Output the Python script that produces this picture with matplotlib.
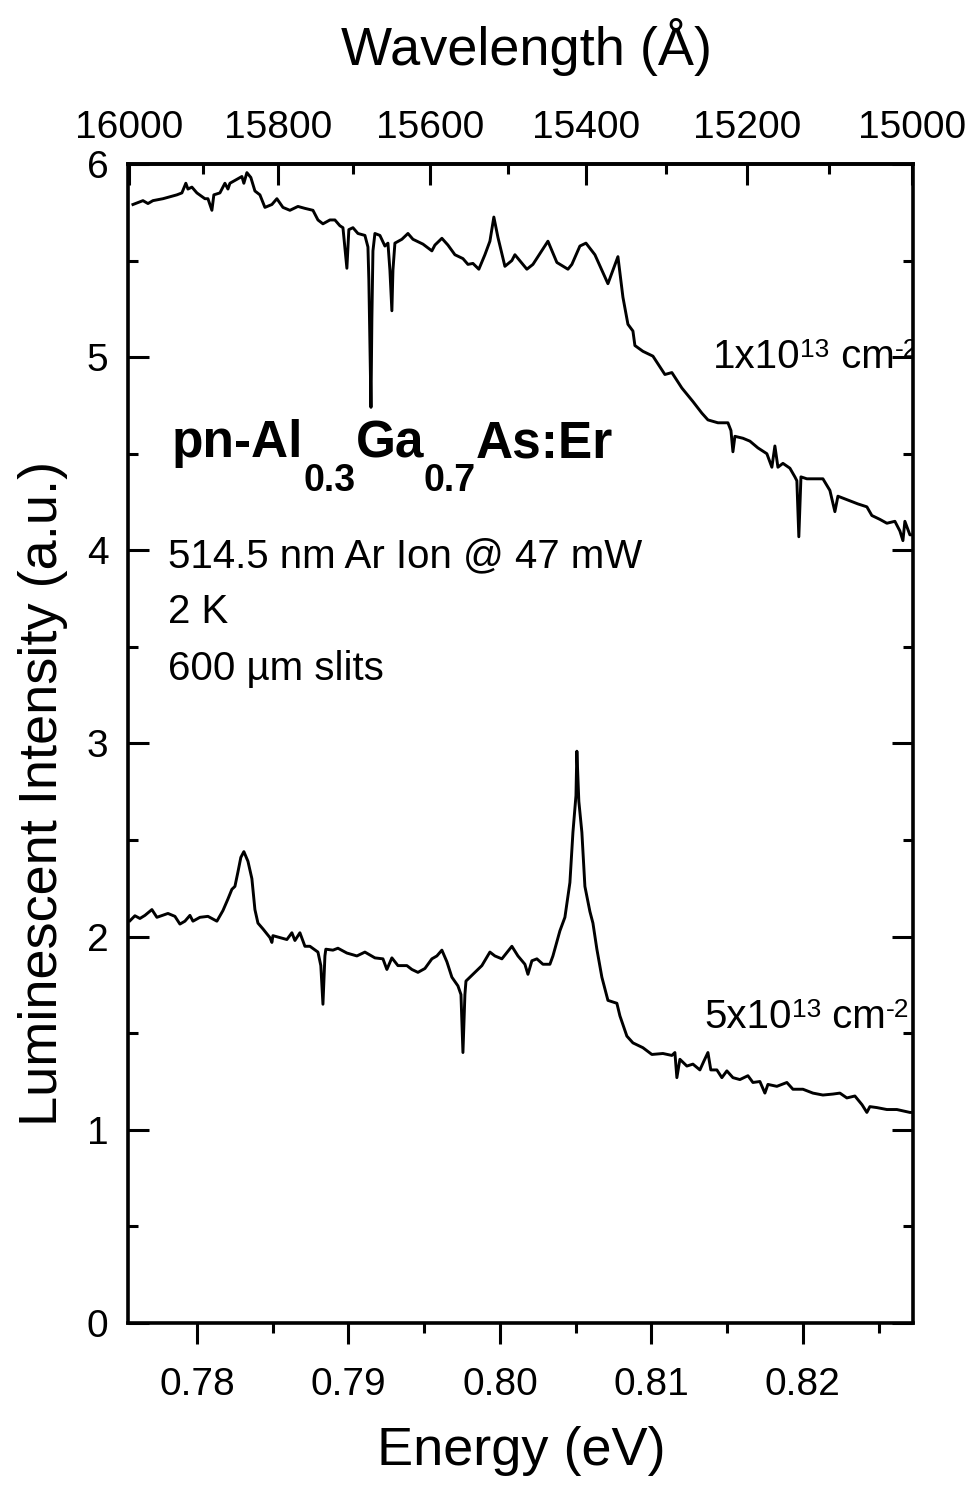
import matplotlib
matplotlib.use("Agg")
from matplotlib import pyplot as plt
from matplotlib import transforms
from matplotlib.ticker import MultipleLocator, FixedLocator

# photon energy <-> wavelength, hc in eV*Angstrom
HC = 12398.42
# small offset between the energy and wavelength scales of the scanned figure
WL_CAL_SHIFT = 0.00062

# 1x10^13 cm^-2 sample (upper trace)
energy_1e13 = [0.77578, 0.77644, 0.77677, 0.77710, 0.77776, 0.77822, 0.77868, 0.77901,
               0.77927, 0.77941, 0.77967, 0.78000, 0.78053, 0.78073, 0.78099, 0.78112,
               0.78152, 0.78185, 0.78205, 0.78218, 0.78264, 0.78297, 0.78310, 0.78330,
               0.78356, 0.78383, 0.78416, 0.78449, 0.78495, 0.78528, 0.78568, 0.78614,
               0.78667, 0.78713, 0.78766, 0.78799, 0.78832, 0.78878, 0.78911, 0.78944,
               0.78964, 0.78990, 0.79003, 0.79030, 0.79063, 0.79109, 0.79129, 0.79135,
               0.79149, 0.79155, 0.79162, 0.79175, 0.79208, 0.79241, 0.79261, 0.79274,
               0.79287, 0.79294, 0.79307, 0.79353, 0.79393, 0.79426, 0.79492, 0.79551,
               0.79571, 0.79617, 0.79657, 0.79703, 0.79756, 0.79789, 0.79822, 0.79861,
               0.79901, 0.79934, 0.79960, 0.79987, 0.80033, 0.80079, 0.80099, 0.80178,
               0.80218, 0.80317, 0.80376, 0.80449, 0.80475, 0.80528, 0.80568, 0.80627,
               0.80713, 0.80779, 0.80812, 0.80845, 0.80878, 0.80891, 0.80944, 0.81010,
               0.81089, 0.81135, 0.81201, 0.81274, 0.81333, 0.81373, 0.81439, 0.81505,
               0.81525, 0.81538, 0.81551, 0.81604, 0.81650, 0.81703, 0.81762, 0.81795,
               0.81815, 0.81835, 0.81868, 0.81914, 0.81947, 0.81960, 0.81973, 0.81987,
               0.82026, 0.82079, 0.82132, 0.82178, 0.82211, 0.82231, 0.82297, 0.82363,
               0.82422, 0.82455, 0.82508, 0.82554, 0.82607, 0.82640, 0.82660, 0.82673,
               0.82706, 0.82726]
intensity_1e13 = [5.79, 5.81, 5.795, 5.81, 5.82, 5.83, 5.84, 5.85,
                  5.90, 5.87, 5.88, 5.85, 5.82, 5.82, 5.76, 5.84,
                  5.85, 5.90, 5.87, 5.90, 5.92, 5.935, 5.90, 5.955,
                  5.93, 5.86, 5.84, 5.775, 5.79, 5.82, 5.775, 5.76,
                  5.78, 5.77, 5.76, 5.71, 5.69, 5.71, 5.71, 5.68,
                  5.67, 5.46, 5.66, 5.67, 5.64, 5.63, 5.57, 5.40,
                  4.74, 5.20, 5.55, 5.64, 5.63, 5.575, 5.59, 5.45,
                  5.24, 5.45, 5.59, 5.61, 5.64, 5.61, 5.585, 5.55,
                  5.58, 5.615, 5.58, 5.53, 5.51, 5.48, 5.485, 5.455,
                  5.53, 5.60, 5.725, 5.62, 5.47, 5.50, 5.53, 5.455,
                  5.48, 5.60, 5.49, 5.455, 5.48, 5.575, 5.59, 5.53,
                  5.38, 5.52, 5.31, 5.17, 5.135, 5.06, 5.03, 5.005,
                  4.91, 4.92, 4.84, 4.77, 4.71, 4.675, 4.66, 4.66,
                  4.62, 4.51, 4.59, 4.58, 4.565, 4.53, 4.50, 4.43,
                  4.54, 4.43, 4.45, 4.425, 4.38, 4.36, 4.07, 4.38,
                  4.37, 4.37, 4.37, 4.31, 4.20, 4.28, 4.26, 4.24,
                  4.225, 4.18, 4.16, 4.14, 4.15, 4.10, 4.05, 4.15,
                  4.08, 4.08]

# 5x10^13 cm^-2 sample (lower trace)
energy_5e13 = [0.77558, 0.77591, 0.77624, 0.77657, 0.77703, 0.77736, 0.77809, 0.77855,
               0.77888, 0.77921, 0.77954, 0.77974, 0.78020, 0.78073, 0.78132, 0.78172,
               0.78205, 0.78231, 0.78251, 0.78271, 0.78290, 0.78310, 0.78337, 0.78363,
               0.78383, 0.78403, 0.78436, 0.78482, 0.78495, 0.78502, 0.78548, 0.78594,
               0.78627, 0.78647, 0.78680, 0.78713, 0.78746, 0.78799, 0.78818, 0.78832,
               0.78845, 0.78851, 0.78898, 0.78931, 0.78990, 0.79056, 0.79109, 0.79175,
               0.79228, 0.79254, 0.79287, 0.79327, 0.79386, 0.79419, 0.79459, 0.79505,
               0.79551, 0.79584, 0.79617, 0.79650, 0.79683, 0.79723, 0.79743, 0.79756,
               0.79769, 0.79776, 0.79822, 0.79881, 0.79934, 0.79967, 0.80013, 0.80079,
               0.80119, 0.80165, 0.80185, 0.80211, 0.80244, 0.80284, 0.80330, 0.80350,
               0.80396, 0.80429, 0.80462, 0.80482, 0.80502, 0.80508, 0.80521, 0.80541,
               0.80561, 0.80594, 0.80614, 0.80640, 0.80673, 0.80713, 0.80772, 0.80792,
               0.80838, 0.80878, 0.80944, 0.81003, 0.81076, 0.81135, 0.81155, 0.81168,
               0.81188, 0.81234, 0.81274, 0.81320, 0.81346, 0.81373, 0.81392, 0.81432,
               0.81465, 0.81498, 0.81538, 0.81584, 0.81637, 0.81670, 0.81716, 0.81749,
               0.81769, 0.81828, 0.81894, 0.81934, 0.82000, 0.82066, 0.82132, 0.82198,
               0.82244, 0.82290, 0.82343, 0.82390, 0.82422, 0.82442, 0.82488, 0.82554,
               0.82620, 0.82673, 0.82706, 0.82726]
intensity_5e13 = [2.082, 2.108, 2.094, 2.11, 2.14, 2.10, 2.12, 2.105,
                  2.065, 2.08, 2.11, 2.08, 2.10, 2.105, 2.08, 2.135,
                  2.195, 2.245, 2.26, 2.335, 2.41, 2.44, 2.39, 2.30,
                  2.14, 2.07, 2.04, 1.995, 1.97, 2.005, 1.995, 1.985,
                  2.02, 1.98, 2.02, 1.95, 1.95, 1.92, 1.85, 1.65,
                  1.90, 1.935, 1.93, 1.94, 1.915, 1.90, 1.92, 1.89,
                  1.885, 1.83, 1.89, 1.85, 1.85, 1.83, 1.815, 1.835,
                  1.885, 1.90, 1.93, 1.87, 1.79, 1.745, 1.70, 1.40,
                  1.70, 1.77, 1.805, 1.85, 1.92, 1.90, 1.885, 1.95,
                  1.90, 1.857, 1.805, 1.875, 1.885, 1.857, 1.857, 1.90,
                  2.03, 2.10, 2.28, 2.54, 2.73, 2.96, 2.70, 2.54,
                  2.26, 2.13, 2.07, 1.935, 1.79, 1.67, 1.655, 1.59,
                  1.485, 1.45, 1.425, 1.39, 1.395, 1.385, 1.40, 1.27,
                  1.365, 1.33, 1.34, 1.31, 1.355, 1.40, 1.31, 1.31,
                  1.27, 1.305, 1.27, 1.26, 1.28, 1.245, 1.25, 1.19,
                  1.235, 1.225, 1.245, 1.21, 1.21, 1.19, 1.18, 1.185,
                  1.19, 1.165, 1.175, 1.13, 1.09, 1.12, 1.115, 1.105,
                  1.105, 1.096, 1.09, 1.09]

energy_ticks = [0.78, 0.79, 0.80, 0.81, 0.82]
wavelength_ticks = [16000, 15800, 15600, 15400, 15200, 15000]
wavelength_minor = [15900, 15700, 15500, 15300, 15100]
intensity_ticks = [0, 1, 2, 3, 4, 5, 6]

sample_title = [("pn-Al", "main"), ("0.3", "sub"), ("Ga", "main"),
                ("0.7", "sub"), ("As:Er", "main")]
conditions = ["514.5 nm Ar Ion @ 47 mW", "2 K", "600 \u00b5m slits"]
dose_upper = [("1x10", "main"), ("13", "sup"), (" cm", "main"), ("-2", "sup")]
dose_lower = [("5x10", "main"), ("13", "sup"), (" cm", "main"), ("-2", "sup")]


plt.rcParams["font.family"] = ["Liberation Sans", "DejaVu Sans"]


def rich_text(ax, x, y, pieces, sizes, rises, **kw):
    """draw a run of text pieces side by side with their own size / baseline shift"""
    fig = ax.figure
    renderer = fig.canvas.get_renderer()
    dx = 0.0
    for s, kind in pieces:
        tr = transforms.offset_copy(ax.transAxes, fig=fig, x=dx, y=rises[kind], units="points")
        t = ax.text(x, y, s, transform=tr, fontsize=sizes[kind], va="baseline", ha="left", **kw)
        dx += t.get_window_extent(renderer).width * 72.0 / fig.dpi


fig = plt.figure(figsize=(9.79, 14.89), dpi=100)
ax = fig.add_axes([0.1307, 0.1115, 0.8018, 0.7784])

ax.plot(energy_1e13, intensity_1e13, color="black", lw=2.1)
ax.plot(energy_5e13, intensity_5e13, color="black", lw=2.1)

ax.set_xlim(0.77545, 0.82726)
ax.set_ylim(0, 6)

for side in ax.spines.values():
    side.set_linewidth(2.6)

ax.xaxis.set_major_locator(FixedLocator(energy_ticks))
ax.xaxis.set_minor_locator(MultipleLocator(0.005))
ax.set_xticklabels(["%.2f" % e for e in energy_ticks])
ax.yaxis.set_major_locator(FixedLocator(intensity_ticks))
ax.yaxis.set_minor_locator(MultipleLocator(0.5))

ax.tick_params(axis="x", which="both", direction="out", top=False, width=2.2)
ax.tick_params(axis="x", which="major", length=15, pad=17, labelsize=28)
ax.tick_params(axis="x", which="minor", length=7.5)
ax.tick_params(axis="y", which="both", direction="in", left=True, right=True, width=2.2)
ax.tick_params(axis="y", which="major", length=15, pad=14, labelsize=28)
ax.tick_params(axis="y", which="minor", length=7.5)

ax.set_xlabel("Energy (eV)", fontsize=39)
ax.xaxis.set_label_coords(0.5006, -0.089)
ax.set_ylabel("Luminescent Intensity (a.u.)", fontsize=39)
ax.yaxis.set_label_coords(-0.076, 0.457)

# wavelength scale on top
top = ax.secondary_xaxis("top", functions=(lambda e: HC / (e - WL_CAL_SHIFT),
                                           lambda w: HC / w + WL_CAL_SHIFT))
top.xaxis.set_major_locator(FixedLocator(wavelength_ticks))
top.xaxis.set_minor_locator(FixedLocator(wavelength_minor))
top.set_xticklabels([str(w) for w in wavelength_ticks])
top.tick_params(which="both", direction="in", width=2.2)
top.tick_params(which="major", length=15, pad=13, labelsize=28)
top.tick_params(which="minor", length=7.5)
top.spines["top"].set_linewidth(2.6)
top.set_xlabel("Wavelength (\u00c5)", fontsize=39)
top.xaxis.set_label_coords(0.508, 1.085, transform=ax.transAxes)

# annotations
rich_text(ax, 0.056, 0.747, sample_title,
          sizes={"main": 37, "sub": 27}, rises={"main": 0, "sub": -24},
          fontweight="bold")
for i, line in enumerate(conditions):
    ax.text(0.051, 0.652 - i * 0.0485, line, transform=ax.transAxes,
            fontsize=29, va="baseline", ha="left")
rich_text(ax, 0.745, 0.824, dose_upper, sizes={"main": 29, "sup": 19},
          rises={"main": 0, "sup": 8}, clip_on=True)
rich_text(ax, 0.734, 0.2545, dose_lower, sizes={"main": 29, "sup": 19},
          rises={"main": 0, "sup": 8}, clip_on=True)

fig.savefig("out.png", dpi=100)
